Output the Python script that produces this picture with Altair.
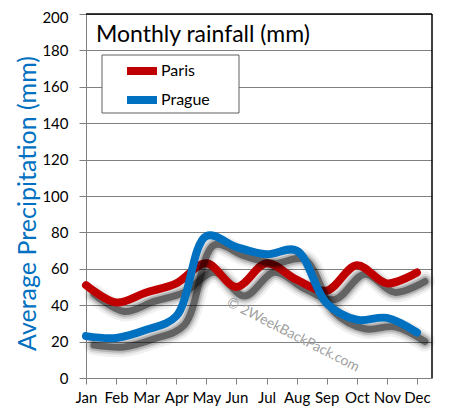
import altair as alt
import pandas as pd

months = ["Jan", "Feb", "Mar", "Apr", "May", "Jun", "Jul", "Aug", "Sep", "Oct", "Nov", "Dec"]
paris = [51, 41.5, 47, 52, 63, 50, 63, 54, 48, 62, 52, 58]
prague = [23, 22, 26.5, 34, 78, 72, 68, 70, 41, 32, 33, 25]
cities = ["Paris", "Prague"]
colors = ["#C00000", "#0070C0"]
y_ticks = list(range(0, 201, 20))
title_text = "Monthly rainfall (mm)"
y_title = "Average Precipitation (mm)"
watermark = "\u00a9 2WeekBackPack.com"

rows = []
for i, m in enumerate(months):
    rows.append({"idx": i, "month": m, "city": "Paris", "mm": paris[i]})
    rows.append({"idx": i, "month": m, "city": "Prague", "mm": prague[i]})
df = pd.DataFrame(rows)

FONT = "Lato"
label_expr = "[" + ",".join("'%s'" % m for m in months) + "][datum.value]"

x = alt.X(
    "idx:Q",
    scale=alt.Scale(domain=[0, 11.5], nice=False, zero=False),
    axis=alt.Axis(
        values=list(range(12)), labelExpr=label_expr, grid=False, title=None,
        labelFont=FONT, labelFontSize=15, labelColor="black", labelPadding=6,
        labelOverlap=False, labelFlush=False,
        tickSize=6, tickColor="#808080", domainColor="#808080",
    ),
)
y = alt.Y(
    "mm:Q",
    scale=alt.Scale(domain=[0, 200], nice=False),
    axis=alt.Axis(
        values=y_ticks, grid=True, gridColor="#808080", gridWidth=1,
        title=y_title, titleColor="#0070C0", titleFont=FONT, titleFontSize=25,
        titleFontWeight="normal", titleX=-59, titleY=189, titleAngle=270,
        titleBaseline="middle", titleAlign="center",
        labelFont=FONT, labelFontSize=15, labelColor="black", labelPadding=11,
        labelOverlap=False, labelFlush=False,
        labelOffset={"condition": {"test": "datum.value == 200", "value": 3}, "value": 0},
        tickSize=7, tickColor="#808080", domainColor="#808080",
    ),
)

legend = alt.Legend(
    orient="none", legendX=16, legendY=49, title=None,
    symbolType="stroke", symbolStrokeWidth=8, symbolSize=900, symbolOffset=21,
    labelFont=FONT, labelFontSize=16, labelColor="black", labelOffset=0,
    clipHeight=16, rowPadding=13, padding=0,
)
color = alt.Color("city:N", scale=alt.Scale(domain=cities, range=colors), legend=legend)

base = alt.Chart(df)

layers = []
# legend box
layers.append(
    alt.Chart(pd.DataFrame({"k": [0]})).mark_rect(
        fill="white", stroke="#606060", strokeWidth=1
    ).encode(x=alt.value(16), x2=alt.value(153), y=alt.value(41), y2=alt.value(99))
)
# watermark
layers.append(
    alt.Chart(pd.DataFrame({"t": [watermark]})).mark_text(
        angle=27, fontSize=14, color="#a0a0a0", font=FONT, align="center", baseline="middle"
    ).encode(x=alt.value(207), y=alt.value(321), text="t:N")
)
for c in cities:
    sub = base.transform_filter(alt.datum.city == c)
    for w, o in [(20, 0.06), (15, 0.10), (11, 0.16), (7, 0.45)]:
        layers.append(
            sub.mark_line(
                interpolate="catmull-rom", color="black", opacity=o, strokeWidth=w,
                strokeCap="round", strokeJoin="round", xOffset=8, yOffset=9,
            ).encode(x=x, y=y)
        )
    layers.append(
        sub.mark_line(interpolate="catmull-rom", strokeWidth=8, strokeCap="round", strokeJoin="round")
        .encode(x=x, y=y, color=color)
    )

# borders (top & right)
border_top = alt.Chart(pd.DataFrame({"mm": [200]})).mark_rule(color="black", strokeWidth=1.5).encode(y=y)
border_right = alt.Chart(pd.DataFrame({"idx": [11.5]})).mark_rule(color="black", strokeWidth=1.5).encode(x=x)

title = alt.Chart(pd.DataFrame({"t": [title_text]})).mark_text(
    font=FONT, fontSize=23, color="black", align="left", baseline="alphabetic"
).encode(x=alt.value(10), y=alt.value(28), text="t:N")

chart = alt.layer(*layers, border_top, border_right, title).properties(
    width=346, height=364,
    padding={"left": 78, "top": 6, "right": 12, "bottom": 32},
    autosize=alt.AutoSizeParams(type="none"),
).configure_view(stroke=None)

chart.save("out.html", embed_options={"renderer": "svg", "actions": False})
